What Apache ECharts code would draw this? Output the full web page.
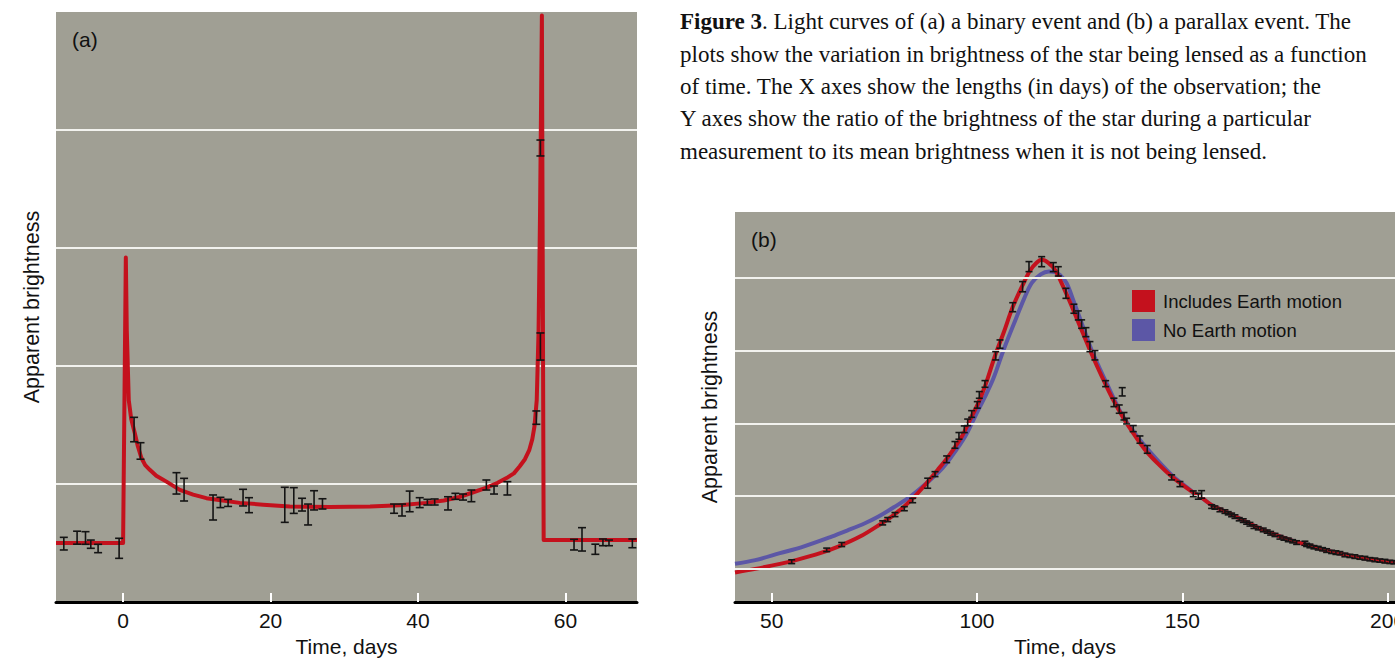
<!DOCTYPE html>
<html><head><meta charset="utf-8">
<script src="https://cdn.jsdelivr.net/npm/echarts@6/dist/echarts.min.js"></script>
<style>html,body{margin:0;padding:0;background:#fff}#c{width:1395px;height:660px}</style>
</head><body><div id="c"></div>
<script>
// ---------- Panel (a): binary event ----------
const aTicks = [0, 20, 40, 60];
const aCurveX = [-9.1, 0, 0.37, 0.5, 0.77, 1.1, 1.59, 2.0, 2.49, 3.0, 3.62, 4.5, 5.88, 7.69, 9.5, 11.3, 13.5, 15.8, 19, 22.6, 28, 33.5, 37.5, 41.1, 43.5, 45.6, 47.5, 49.3, 50.8, 52.0, 53.0, 53.8, 54.5, 55.1, 55.5, 55.8, 56.1, 56.35, 56.55, 56.8, 57.04, 69.7];
const aCurveY = [0.50, 0.50, 2.92, 2.3, 1.71, 1.55, 1.43, 1.32, 1.22, 1.16, 1.12, 1.07, 1.02, 0.95, 0.91, 0.88, 0.86, 0.84, 0.825, 0.81, 0.805, 0.81, 0.82, 0.84, 0.86, 0.89, 0.93, 0.97, 1.01, 1.05, 1.09, 1.15, 1.21, 1.29, 1.38, 1.49, 1.71, 2.3, 3.3, 4.97, 0.525, 0.525];
const aErrX  = [-8.04, -6.24, -5.10, -4.38, -3.39, -0.54, 1.49, 2.36, 7.24, 8.27, 12.2, 13.2, 14.24, 16.27, 17.08, 21.93, 23.15, 24.27, 25.09, 25.9, 27.04, 36.75, 37.83, 38.87, 40.23, 41.27, 42.26, 44.07, 45.07, 46.1, 47.24, 49.27, 50.31, 52.12, 56.05, 56.6, 56.6, 61.16, 62.24, 64.05, 65.08, 65.9, 69.07];
const aErrLo = [0.441, 0.49, 0.489, 0.455, 0.418, 0.37, 1.358, 1.21, 0.915, 0.856, 0.695, 0.80, 0.81, 0.814, 0.757, 0.675, 0.751, 0.771, 0.653, 0.78, 0.788, 0.752, 0.729, 0.765, 0.80, 0.822, 0.822, 0.78, 0.87, 0.864, 0.85, 0.949, 0.915, 0.907, 1.506, 2.05, 3.78, 0.441, 0.432, 0.404, 0.477, 0.477, 0.46];
const aErrHi = [0.548, 0.60, 0.596, 0.525, 0.489, 0.54, 1.565, 1.35, 1.096, 1.048, 0.907, 0.887, 0.87, 0.955, 0.884, 0.972, 0.969, 0.879, 0.83, 0.943, 0.875, 0.83, 0.83, 0.94, 0.884, 0.87, 0.873, 0.892, 0.921, 0.915, 0.949, 1.034, 0.983, 1.02, 1.619, 2.28, 3.915, 0.531, 0.63, 0.49, 0.534, 0.525, 0.534];

// ---------- Panel (b): parallax event ----------
const bTicks = [50, 100, 150, 200];
const bGrid = [1, 2, 3, 4, 5];
const seriesNames = ['Includes Earth motion', 'No Earth motion'];
const redX = [41.06, 46, 52, 56.1, 61.8, 66.2, 71.5, 76.8, 79.2, 82.2, 84.9, 87.7, 90.4, 93, 96.3, 98.2, 100.3, 102, 104.5, 106.5, 108.7, 111.1, 112.9, 114.5, 115.8, 117.3, 119, 120.6, 122.4, 124.1, 125.8, 127.5, 129.3, 131.2, 133.3, 135.5, 138, 140.9, 144, 147.4, 149.7, 152.7, 154.7, 157.1, 161.2, 164.8, 168.5, 172.6, 176.9, 181.1, 185.1, 189.6, 193.3, 197, 201.8];
const redY = [0.95, 1.0, 1.069, 1.124, 1.216, 1.307, 1.444, 1.628, 1.72, 1.856, 2.0, 2.178, 2.36, 2.544, 2.82, 3.04, 3.28, 3.52, 3.95, 4.25, 4.6, 4.9, 5.1, 5.21, 5.25, 5.21, 5.11, 4.93, 4.7, 4.47, 4.24, 4.01, 3.78, 3.55, 3.31, 3.09, 2.87, 2.64, 2.45, 2.27, 2.17, 2.05, 1.98, 1.88, 1.77, 1.67, 1.565, 1.47, 1.385, 1.318, 1.255, 1.195, 1.155, 1.123, 1.09];
const blueX = [41.06, 46, 52, 57.7, 64.6, 68.5, 72.7, 76, 80, 83.9, 87.7, 91.2, 93.8, 97.1, 99.9, 101.8, 104, 106.6, 109.7, 111.5, 113.3, 115.5, 117.5, 119, 120.2, 121.8, 123.4, 124.9, 126.4, 127.9, 129.7, 131.6, 133.6, 135.6, 138.5, 141.7, 145, 148, 150.5, 152.7, 154.7, 157.1, 161.2, 164.8, 168.5, 172.6, 176.9, 181.1, 185.1, 189.6, 193.3, 197, 201.8];
const blueY = [1.07, 1.12, 1.216, 1.307, 1.444, 1.53, 1.628, 1.72, 1.856, 2.0, 2.178, 2.36, 2.544, 2.82, 3.14, 3.35, 3.62, 4.03, 4.47, 4.72, 4.93, 5.05, 5.09, 5.08, 5.04, 4.93, 4.7, 4.47, 4.24, 4.01, 3.78, 3.55, 3.31, 3.09, 2.86, 2.636, 2.43, 2.26, 2.15, 2.05, 1.98, 1.88, 1.77, 1.67, 1.565, 1.47, 1.385, 1.318, 1.255, 1.195, 1.155, 1.123, 1.09];
const bErrX = [54.87, 63.39, 67.05, 77.03, 78.25, 80.02, 82.3, 84.33, 87.99, 89.77, 92.61, 94.63, 95.6, 96.9, 97.73, 98.7, 100.07, 100.56, 101.94, 104.55, 105.6, 108.7, 111.1, 112.66, 115.75, 118.58, 119.8, 121.66, 123.6, 124.67, 125.48, 126.53, 127.5, 128.72, 131.33, 133.35, 134.64, 135.37, 135.79, 136.44, 138.05, 139.68, 141.46, 147.4, 149.42, 152.67, 153.9, 154.7,
  157.14, 157.94, 159.16, 160.38, 161.18, 162.01, 162.82, 163.86, 164.84, 165.66, 166.47, 167.44, 168.49, 169.71, 170.68, 171.51, 172.56, 173.78, 174.75, 175.8, 176.87, 177.84, 179.86, 180.27, 181.08, 182.05, 183.1, 184.17, 185.14, 186.36, 187.41, 188.38, 189.6, 190.82, 192.03, 193.25, 194.47, 195.68, 196.9, 198.12, 199.34, 200.55, 201.53];
const bErrY = [1.099, 1.262, 1.335, 1.633, 1.678, 1.747, 1.828, 1.94, 2.178, 2.303, 2.507, 2.705, 2.829, 2.92, 3.015, 3.13, 3.255, 3.392, 3.543, 3.93, 4.091, 4.598, 4.88, 5.156, 5.224, 5.149, 5.091, 4.789, 4.577, 4.485, 4.366, 4.255, 4.056, 3.937, 3.547, 3.289, 3.197, 3.435, 3.099, 3.032, 2.929, 2.778, 2.643, 2.258, 2.166, 2.033, 1.999, 2.024,
  1.857, 1.843, 1.811, 1.788, 1.765, 1.742, 1.719, 1.683, 1.664, 1.637, 1.614, 1.581, 1.559, 1.536, 1.513, 1.49, 1.467, 1.435, 1.417, 1.399, 1.38, 1.362, 1.353, 1.33, 1.316, 1.298, 1.285, 1.27, 1.252, 1.234, 1.224, 1.216, 1.192, 1.179, 1.169, 1.155, 1.147, 1.133, 1.124, 1.114, 1.106, 1.096, 1.092];
const bErrH = [0.026, 0.024, 0.028, 0.028, 0.028, 0.028, 0.028, 0.03, 0.069, 0.034, 0.046, 0.046, 0.046, 0.046, 0.045, 0.046, 0.045, 0.046, 0.046, 0.057, 0.057, 0.062, 0.07, 0.069, 0.069, 0.062, 0.064, 0.069, 0.062, 0.062, 0.058, 0.062, 0.069, 0.064, 0.041, 0.058, 0.057, 0.057, 0.051, 0.039, 0.042, 0.05, 0.053, 0.035, 0.035, 0.039, 0.041, 0.052,
  0.025, 0.022, 0.025, 0.025, 0.022, 0.025, 0.025, 0.022, 0.025, 0.022, 0.025, 0.025, 0.022, 0.025, 0.022, 0.025, 0.022, 0.025, 0.022, 0.025, 0.022, 0.025, 0.028, 0.022, 0.025, 0.022, 0.025, 0.022, 0.025, 0.022, 0.025, 0.022, 0.025, 0.022, 0.025, 0.022, 0.025, 0.022, 0.025, 0.022, 0.025, 0.022, 0.022];

// ---------- styling ----------
const BG = '#a09f94';
const RED = '#c4111d';
const BLUE = '#5c57a6';
const INK = '#111111';
const GRIDC = '#f2f2ee';
const SANS = '"Liberation Sans", Arial, sans-serif';
const SERIF = '"Liberation Serif", "Times New Roman", serif';
const CAP = 23;

const zip = (xs, ys) => xs.map((x, i) => [x, ys[i]]);

function errRender(cap) {
  return function (params, api) {
    const x = api.value(0);
    const p1 = api.coord([x, api.value(1)]);
    const p2 = api.coord([x, api.value(2)]);
    const st = { stroke: '#141414', lineWidth: 1.6 };
    return {
      type: 'group',
      children: [
        { type: 'line', shape: { x1: p1[0], y1: p1[1], x2: p2[0], y2: p2[1] }, style: st },
        { type: 'line', shape: { x1: p1[0] - cap, y1: p1[1], x2: p1[0] + cap, y2: p1[1] }, style: st },
        { type: 'line', shape: { x1: p2[0] - cap, y1: p2[1], x2: p2[0] + cap, y2: p2[1] }, style: st }
      ]
    };
  };
}

function xAxisCfg(gi, min, max, ticks) {
  return {
    type: 'value', gridIndex: gi, min: min, max: max,
    axisLine: { show: true, onZero: false, lineStyle: { color: '#000', width: 3 } },
    axisTick: { show: true, inside: true, length: 9, customValues: ticks, lineStyle: { color: '#ffffff', width: 2 } },
    axisLabel: { customValues: ticks, fontSize: 21, color: INK, fontFamily: SANS, margin: 8, alignMinLabel: 'center', alignMaxLabel: 'center', hideOverlap: false },
    splitLine: { show: false },
    name: 'Time, days', nameLocation: 'middle', nameGap: 33,
    nameTextStyle: { fontSize: 21, color: INK, fontFamily: SANS }
  };
}

const chart = echarts.init(document.getElementById('c'), null, { renderer: 'svg' });
chart.setOption({
  animation: false,
  backgroundColor: '#ffffff',
  grid: [
    { left: 56, top: 12, width: 581, height: 590, show: true, backgroundColor: BG, borderWidth: 0, containLabel: false, outerBoundsMode: 'none' },
    { left: 735, top: 212, width: 660, height: 390, show: true, backgroundColor: BG, borderWidth: 0, containLabel: false, outerBoundsMode: 'none' }
  ],
  xAxis: [xAxisCfg(0, -9.1, 69.7, aTicks), xAxisCfg(1, 41.06, 201.8, bTicks)],
  yAxis: [
    {
      type: 'value', gridIndex: 0, min: 0, max: 5, interval: 1,
      axisLine: { show: false }, axisTick: { show: false }, axisLabel: { show: false },
      splitLine: { show: true, showMinLine: false, showMaxLine: false, lineStyle: { color: GRIDC, width: 2 } },
      name: 'Apparent brightness', nameLocation: 'middle', nameGap: 13, nameRotate: 90,
      nameTextStyle: { fontSize: 21.5, color: INK, fontFamily: SANS }
    },
    {
      type: 'value', gridIndex: 1, min: 0.545, max: 5.907,
      axisLine: { show: false }, axisTick: { show: false }, axisLabel: { show: false },
      splitLine: { show: false },
      name: 'Apparent brightness', nameLocation: 'middle', nameGap: 14, nameRotate: 90,
      nameTextStyle: { fontSize: 21.5, color: INK, fontFamily: SANS }
    }
  ],
  legend: {
    data: seriesNames, orient: 'vertical', left: 1132, top: 290, padding: 0,
    itemWidth: 23, itemHeight: 22, itemGap: 7, icon: 'rect', selectedMode: false,
    textStyle: { fontSize: 18.5, color: INK, fontFamily: SANS, padding: [0, 0, 0, 3] }
  },
  series: [
    {
      name: 'Binary event', type: 'line', xAxisIndex: 0, yAxisIndex: 0,
      data: zip(aCurveX, aCurveY), showSymbol: false, symbol: 'none', z: 3,
      color: RED, lineStyle: { color: RED, width: 4, join: 'round' }
    },
    {
      name: 'aErr', type: 'custom', xAxisIndex: 0, yAxisIndex: 0, z: 5,
      renderItem: errRender(4),
      data: aErrX.map((x, i) => [x, aErrLo[i], aErrHi[i]])
    },
    {
      name: 'gridB', type: 'line', xAxisIndex: 1, yAxisIndex: 1, data: [], z: 1,
      markLine: {
        silent: true, symbol: ['none', 'none'], label: { show: false }, animation: false,
        lineStyle: { color: GRIDC, width: 2, type: 'solid' },
        data: bGrid.map(v => ({ yAxis: v }))
      }
    },
    {
      name: seriesNames[1], type: 'line', xAxisIndex: 1, yAxisIndex: 1,
      data: zip(blueX, blueY), showSymbol: false, symbol: 'none', smooth: 0.35, z: 2,
      color: BLUE, lineStyle: { color: BLUE, width: 4 }
    },
    {
      name: seriesNames[0], type: 'line', xAxisIndex: 1, yAxisIndex: 1,
      data: zip(redX, redY), showSymbol: false, symbol: 'none', smooth: 0.35, z: 3,
      color: RED, lineStyle: { color: RED, width: 4 }
    },
    {
      name: 'bErr', type: 'custom', xAxisIndex: 1, yAxisIndex: 1, z: 5,
      renderItem: errRender(3.5),
      data: bErrX.map((x, i) => [x, bErrY[i] - bErrH[i], bErrY[i] + bErrH[i]])
    }
  ],
  graphic: [
    { type: 'text', left: 72, top: 29, style: { text: '(a)', font: '21px ' + SANS, fill: INK } },
    { type: 'text', left: 751, top: 229, style: { text: '(b)', font: '21px ' + SANS, fill: INK } },
    { type: 'text', left: 680, top: 10, style: { text: '{b|Figure 3}. Light curves of (a) a binary event and (b) a parallax event. The', font: CAP + 'px ' + SERIF, fill: INK, rich: { b: { fontWeight: 'bold', fontSize: CAP, fontFamily: SERIF, fill: INK } } } },
    { type: 'text', left: 680, top: 43, style: { text: 'plots show the variation in brightness of the star being lensed as a function', font: CAP + 'px ' + SERIF, fill: INK } },
    { type: 'text', left: 680, top: 75, style: { text: 'of time. The X axes show the lengths (in days) of the observation; the', font: CAP + 'px ' + SERIF, fill: INK } },
    { type: 'text', left: 680, top: 107, style: { text: 'Y axes show the ratio of the brightness of the star during a particular', font: CAP + 'px ' + SERIF, fill: INK } },
    { type: 'text', left: 680, top: 140, style: { text: 'measurement to its mean brightness when it is not being lensed.', font: CAP + 'px ' + SERIF, fill: INK } }
  ]
});
</script></body></html>
